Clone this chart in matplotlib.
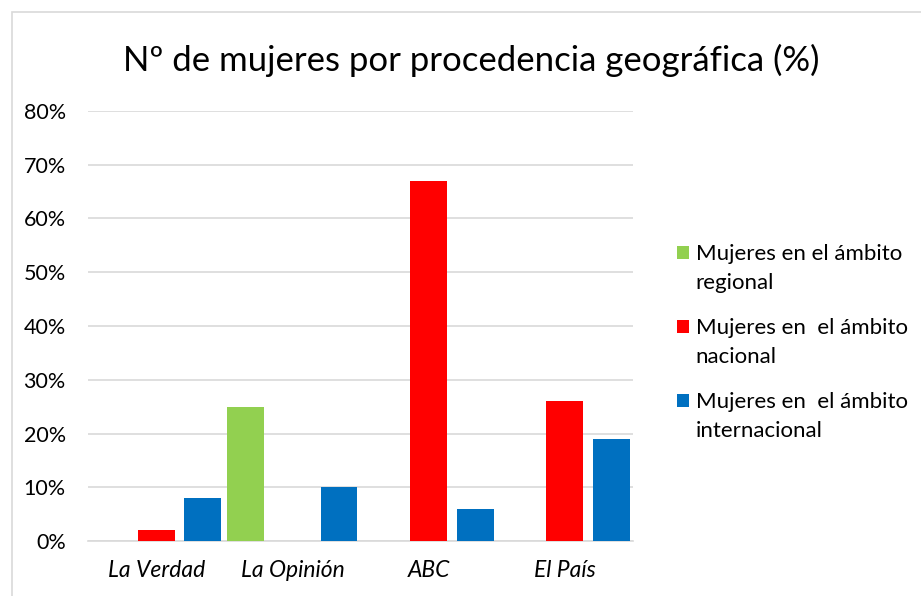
import matplotlib
matplotlib.use("Agg")
import matplotlib.pyplot as plt
import numpy as np
from matplotlib.patches import Rectangle
from matplotlib.legend_handler import HandlerPatch
from matplotlib.container import BarContainer

categories = ["La Verdad", "La Opinión", "ABC", "El País"]
series_names = ["Mujeres en el ámbito\nregional",
                "Mujeres en  el ámbito\nnacional",
                "Mujeres en  el ámbito\ninternacional"]
regional = [0, 25, 0, 0]
nacional = [2, 0, 67, 26]
internacional = [8, 10, 6, 19]
colors = ["#92D050", "#FF0000", "#0070C0"]
yticks = [0, 10, 20, 30, 40, 50, 60, 70, 80]
title = "Nº de mujeres por procedencia geográfica (%)"

font = "Lato"
W, H = 921, 596
fig = plt.figure(figsize=(W / 100, H / 100), dpi=100)
fig.patch.set_facecolor("white")

# outer chart border
fig.add_artist(Rectangle((12 / W, -0.05), 1.1, (596 - 12) / H + 0.05, transform=fig.transFigure,
                         fill=False, edgecolor="#d9d9d9", linewidth=1.2))

ax = fig.add_axes([88 / W, (H - 541) / H, (633 - 88) / W, (541 - 111) / H])
x = np.arange(len(categories))
width = 0.27
offset = 0.342
for i, (vals, name, c) in enumerate(zip([regional, nacional, internacional], series_names, colors)):
    ax.bar(x + (i - 1) * offset, vals, width, color=c, label=name, zorder=3)

ax.set_xlim(-0.5, len(categories) - 0.5)
ax.set_ylim(0, 80)
ax.set_yticks(yticks)
ax.set_yticklabels([f"{v}%" for v in yticks], fontfamily=font, fontsize=15.5)
ax.set_xticks(x)
ax.set_xticklabels(categories, fontfamily=font, fontsize=16.5, style="italic")
ax.tick_params(axis="both", length=0, pad=16)
ax.tick_params(axis="x", pad=14)
ax.grid(axis="y", color="#d9d9d9", linewidth=1.2, zorder=0)
for s in ["top", "right", "left"]:
    ax.spines[s].set_visible(False)
ax.spines["bottom"].set_color("#d9d9d9")
ax.spines["bottom"].set_linewidth(1.2)

fig.text(471 / W, (H - 60) / H, title, ha="center", va="center", fontfamily=font, fontsize=25)

SHIFT_PT = 11.5


class TopHandler(HandlerPatch):
    def create_artists(self, legend, orig_handle, xdescent, ydescent, width, height, fontsize, trans):
        fc = orig_handle.patches[0].get_facecolor()
        p = Rectangle((-xdescent, -ydescent + SHIFT_PT), width, height,
                      facecolor=fc, edgecolor="none", transform=trans)
        return [p]


handles, labels = ax.get_legend_handles_labels()
leg = fig.legend(handles, labels, loc="upper left", bbox_to_anchor=(657 / W, (H - 224) / H), frameon=False,
                 prop={"family": font, "size": 16}, handlelength=0.54, handleheight=0.54,
                 handletextpad=0.3, labelspacing=1.13,
                 handler_map={BarContainer: TopHandler()})
for t in leg.get_texts():
    t.set_linespacing(1.55)

fig.savefig("out.png", dpi=100)
